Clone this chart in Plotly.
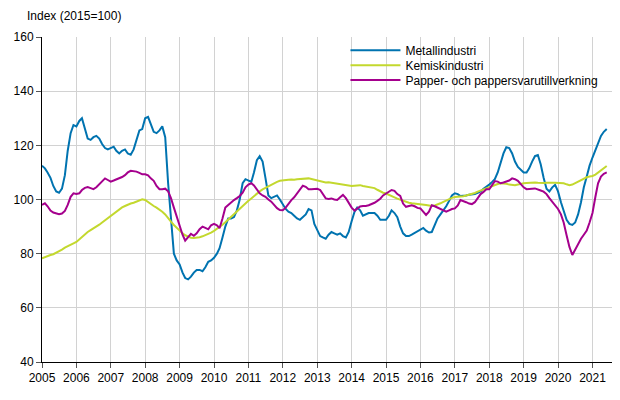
import plotly.graph_objects as go
import pandas as pd

# Månadsserier jan 2005 - jun 2021, index 2015=100
manader = pd.date_range("2005-01-01", "2021-06-01", freq="MS")

metallindustri = [
    112.5, 111.5, 110, 108, 105, 103, 102.5, 104, 109, 118, 124.5, 127.5,
    127, 129, 130, 126, 122.5, 122, 123, 123.5, 122.5, 120.5, 119, 118.5,
    119, 119.5, 118, 117, 118, 118.5, 117, 116.5, 118.5, 122, 125.5, 126,
    130, 130.5, 127.5, 125, 124.5, 125.5, 127, 123, 106, 92, 80, 77.5,
    76, 73, 71, 70.5, 71.5, 73, 74, 74, 73.5, 75, 77, 77.5,
    78.5, 80, 82, 86, 90, 93, 93, 93.5, 96, 100, 106, 107.5,
    107, 106.5, 110, 114.5, 116, 114, 108, 101.5, 100.5, 101, 101.5, 100,
    98, 96.5, 95.5, 95, 94, 93, 92.5, 93.5, 94.5, 96.5, 96, 91,
    89, 86.5, 86, 85.5, 87, 88, 87.5, 87, 87.5, 86.5, 86, 88,
    92, 95.5, 97, 96, 94, 94.5, 95, 95, 95, 94, 92.5, 92.5,
    92.5, 94, 96, 95, 93.5, 90, 87.5, 86.5, 86.5, 87, 87.7, 88.2,
    89, 89.5, 88.5, 87.8, 88, 90.5, 93, 94.5, 96, 97.5, 99.5, 101.5,
    102.3, 102, 101.3, 101.3, 101.5, 101.8, 102, 102, 102.5, 103, 104, 104.7,
    105.5, 106.5, 107.5, 110, 113.4, 117, 119.3, 119, 117, 114, 112, 111,
    110, 110, 111.5, 114, 116, 116.4, 113, 108, 104, 103, 104.5, 105.4,
    103, 99, 96, 92.5, 91, 90.6, 91.5, 94.5, 99, 104.5, 108.5, 112.5,
    115.5, 118.5, 121, 123.5, 125, 126,
]

kemiskindustri = [
    78.3, 78.8, 79.2, 79.5, 79.8, 80.3, 80.8, 81.5, 82.2, 82.8, 83.3, 83.8,
    84.3, 85.3, 86.3, 87.2, 88.0, 88.7, 89.3, 90.0, 90.7, 91.5, 92.3, 93.2,
    94.0, 94.8, 95.6, 96.4, 97.1, 97.6, 98.1, 98.5, 98.8, 99.2, 99.6, 100.1,
    99.8, 99.0, 98.2, 97.6, 97.0, 96.3, 95.5, 94.5, 93.0, 91.8, 90.6, 89.5,
    88.3, 87.5, 86.8, 86.2, 85.9, 85.8, 85.9, 86.1, 86.4, 86.8, 87.3, 87.8,
    88.4, 89.1, 89.9, 90.7, 91.6, 92.6, 93.6, 94.7, 95.8, 96.9, 97.9, 98.8,
    99.5, 100.4, 101.3, 102.2, 103.0, 103.7, 104.3, 104.9, 105.5, 106.0, 106.5, 106.9,
    107.1, 107.2, 107.3, 107.4, 107.3, 107.5, 107.6, 107.5, 107.6, 107.8, 107.6, 107.3,
    107.0, 106.8, 106.5, 106.3, 106.4, 106.2, 106.2, 106.0, 105.8, 105.5, 105.2, 105.0,
    105.0, 105.1, 105.3, 105.3, 105.0, 104.8, 104.7, 104.5, 104.2, 103.6, 103.0, 102.5,
    102.2, 101.8, 101.3, 100.8, 100.3, 99.9, 99.4, 99.0, 98.8, 98.6, 98.5, 98.4,
    98.4, 98.2, 98.0, 97.8, 97.6, 97.8, 98.1, 98.6, 99.1, 99.6, 100.2, 100.6,
    100.9, 101.0, 100.9, 101.2, 101.5, 101.8, 102.0, 102.4, 102.9, 103.3, 103.8, 104.3,
    104.6, 105.0, 105.4, 105.7, 106.0, 106.0, 105.8, 105.5, 105.4, 105.3, 105.5, 105.8,
    106.0, 106.1, 106.2, 106.2, 106.3, 106.2, 106.1, 106.1, 106.2, 106.3, 106.2, 106.2,
    106.2, 106.1, 106.0, 105.6, 105.3, 105.5, 106.0, 106.6, 107.2, 107.8, 108.2, 108.5,
    108.7, 109.2, 110.0, 110.8, 111.6, 112.4,
]

papper = [
    98, 98.6, 97.5, 95.9, 95.2, 94.8, 94.6, 94.8, 95.8, 98, 101, 102.3,
    102, 102.3, 103.5, 104.3, 104.6, 104.2, 103.8, 104.5, 105.5, 106.8, 107.8, 107.2,
    106.6, 107, 107.4, 107.8, 108.3, 109, 110, 110.6, 110.5, 110.3, 109.8, 109.3,
    109.3, 108.9, 107.8, 106.9, 105, 103.8, 103.8, 104, 103, 100.5, 97, 93.5,
    90, 87, 84.8, 86, 87.3, 86.6, 87.5, 89, 90, 89.5, 89, 90.5,
    91, 90.5, 89.4, 93, 97, 98, 99, 99.8, 100.5, 101.3, 102.5, 104.5,
    105.5, 106, 105.2, 103.5, 102.3, 101.5, 101, 100, 99.2, 98, 96.8, 96.1,
    96, 97, 98.5, 99.8, 100.8, 102.3, 104, 105.1, 104.7, 103.8, 103.8, 104,
    104, 103.5, 102, 100.4, 100.2, 100.4, 100, 99.8, 100.8, 101.7, 100.5, 98.8,
    97, 95.9, 96.5, 97.4, 97.6, 97.6, 97.9, 98.3, 98.8, 99.5, 100.3, 101.5,
    102.3, 103, 103.5, 103.2, 102, 101.3, 98.5, 97.3, 97.5, 97.9, 97.5, 96.9,
    96.7, 95.5, 94.3, 95.5, 97.9, 97.5, 97, 96.5, 95.7, 95.5, 96, 96.5,
    96.7, 97.8, 99.8, 99.5, 99, 98.5, 98.3, 99, 100.5, 102, 102.8, 103.8,
    103.8, 105.5, 106.8, 106.6, 106, 106.3, 106.6, 107, 107.8, 107.5, 106.9, 105.5,
    104.5, 103.8, 103.8, 104, 104.1, 103.8, 103.3, 102.9, 102, 100.5, 99, 97.8,
    96.5, 94.5, 91.5, 86.8, 82.5, 79.5, 81.5, 83.8, 85.5, 87, 88.5, 91.5,
    95, 101, 106, 108.5, 109.5, 110,
]

serier = [
    ("Metallindustri", metallindustri, "#0073b0", "legend"),
    ("Kemiskindustri", kemiskindustri, "#c3d82e", "legend2"),
    ("Papper- och pappersvarutillverkning", papper, "#a5008d", "legend3"),
]

fig = go.Figure()
for namn, varden, farg, leg in serier:
    fig.add_trace(go.Scatter(
        x=manader,
        y=varden,
        mode="lines",
        name=namn,
        legend=leg,
        line=dict(color=farg, width=2),
    ))

# en legend per serie så att raderna ligger tätt (15 px)
def legend_rad(y):
    return dict(
        x=0.525, y=y, xanchor="left", yanchor="top",
        bgcolor="rgba(0,0,0,0)", borderwidth=0,
        font=dict(size=12),
        itemwidth=50,
    )

axel = dict(
    showgrid=True,
    gridcolor="#d2d2d2",
    gridwidth=1,
    ticks="outside",
    ticklen=5,
    tickcolor="#555555",
    showline=True,
    linecolor="#000000",
    linewidth=1,
    zeroline=False,
)

fig.update_layout(
    width=612,
    height=392,
    margin=dict(l=34, r=0, t=29, b=38),
    paper_bgcolor="white",
    plot_bgcolor="white",
    font=dict(family="Liberation Sans, Arial, sans-serif", size=12, color="#000000"),
    showlegend=True,
    legend=legend_rad(1.004),
    legend2=legend_rad(0.958),
    legend3=legend_rad(0.912),
    xaxis=dict(
        type="date",
        range=["2005-01-01", "2021-10-20"],
        dtick="M12",
        tick0="2005-01-01",
        tickformat="%Y",
        **axel,
    ),
    yaxis=dict(range=[40, 160], dtick=20, **axel),
    shapes=[dict(
        type="rect", xref="paper", yref="paper", layer="between",
        x0=0.525, x1=0.97, y0=0.84, y1=1.0,
        fillcolor="white", line=dict(width=0),
    )],
    annotations=[dict(
        text="Index (2015=100)",
        xref="paper", yref="paper",
        x=0, y=1,
        xanchor="left", yanchor="bottom",
        xshift=-17, yshift=12,
        showarrow=False,
        font=dict(size=12),
    )],
)

fig.write_html("out.html")
